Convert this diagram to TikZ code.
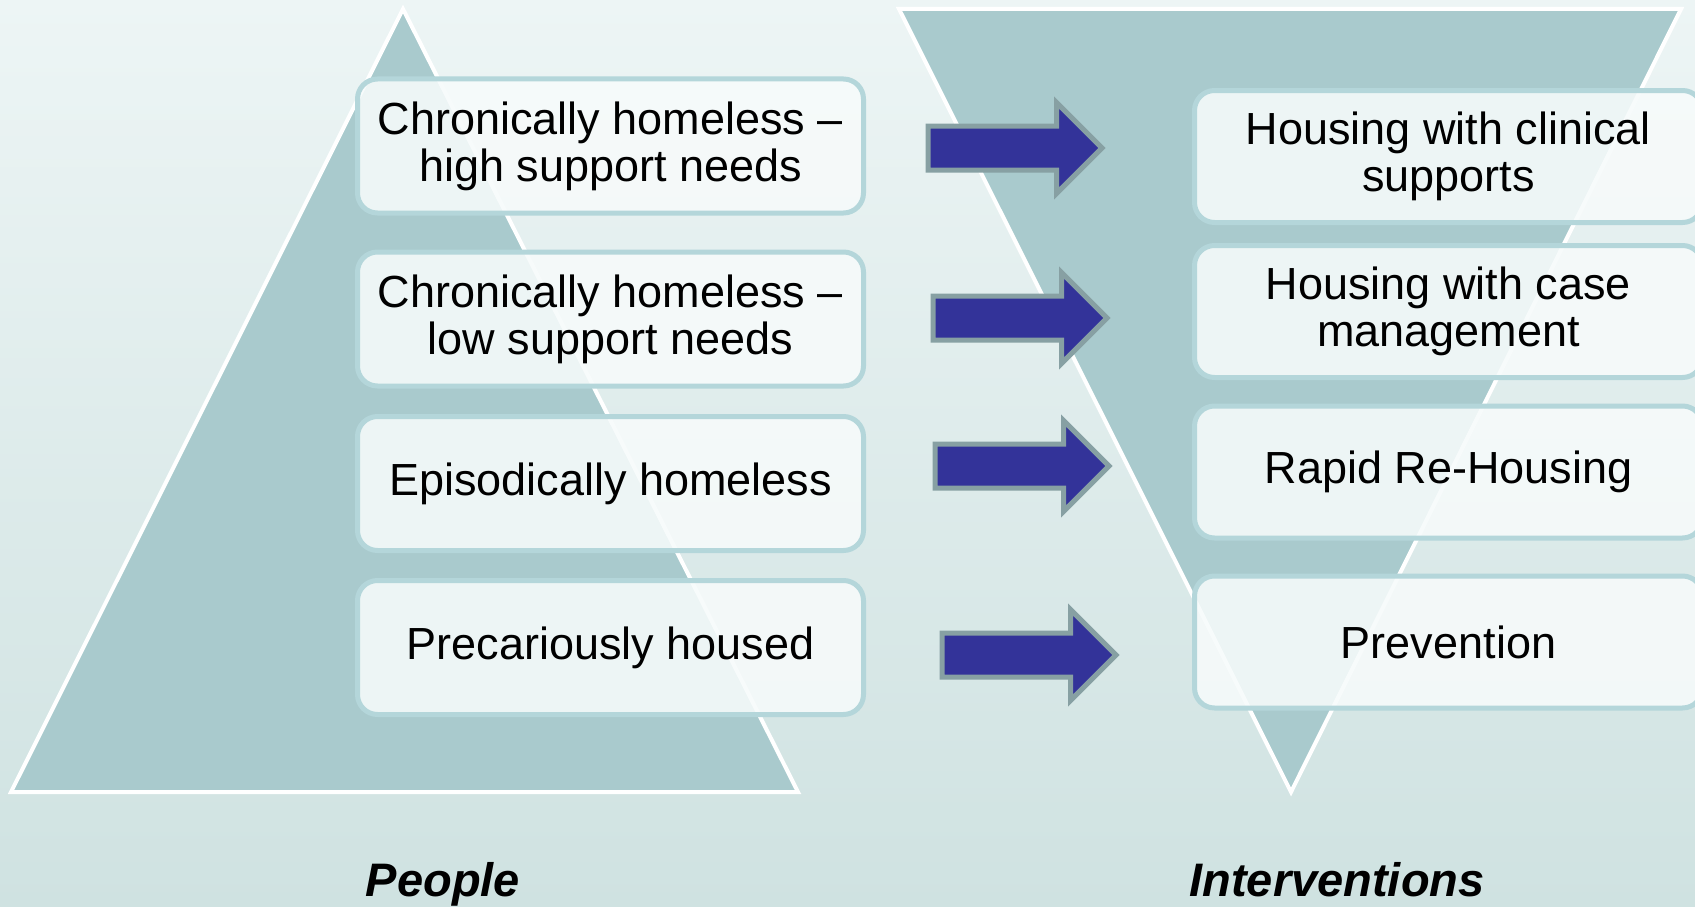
\documentclass[tikz,border=0pt]{standalone}
\usepackage{fontspec}
\setmainfont{Liberation Sans}
\usetikzlibrary{shapes.arrows}
\definecolor{bgtop}{HTML}{EDF5F5}
\definecolor{bgbot}{HTML}{CFE2E1}
\definecolor{trifill}{HTML}{A9CACD}
\definecolor{boxfill}{HTML}{F7FBFB}
\definecolor{boxline}{HTML}{B4D6DA}
\definecolor{arrowfill}{HTML}{333399}
\definecolor{arrowline}{HTML}{87A0A3}
\tikzset{
  tri/.style={fill=trifill, draw=white, line width=4pt, line join=miter},
  itembox/.style={rounded corners=20pt, draw=boxline, line width=5pt,
    fill=boxfill, fill opacity=0.88, text opacity=1, align=center,
    font=\fontsize{45}{47}\selectfont, inner sep=0pt},
  leftbox/.style={itembox, minimum width=506pt, minimum height=134pt},
  rightbox/.style={itembox, minimum width=508pt, minimum height=132pt},
  blockarrow/.style={single arrow, anchor=tail, draw=arrowline, line width=5pt,
    fill=arrowfill, inner xsep=0pt, inner ysep=19.5pt, minimum height=174pt,
    single arrow head extend=23.5pt, single arrow tip angle=90},
  caption/.style={font=\fontsize{47}{50}\selectfont\bfseries\itshape, anchor=base}
}
\begin{document}
\begin{tikzpicture}[x=1pt, y=-1pt]
\useasboundingbox (0,0) rectangle (1695,907);
\shade[top color=bgtop, bottom color=bgbot] (0,0) rectangle (1695,907);
% triangles
\draw[tri] (403,9) -- (11,792) -- (798,792) -- cycle;
\draw[tri] (899,9) -- (1681,9) -- (1291,792) -- cycle;
% left boxes
\node[leftbox] (l1) at (610.5,146) {Chronically homeless –\\high support needs};
\node[leftbox] (l2) at (610.5,319) {Chronically homeless –\\low support needs};
\node[leftbox] (l3) at (610.5,483.5) {Episodically homeless};
\node[leftbox] (l4) at (610.5,647.5) {Precariously housed};
% right boxes
\node[rightbox] (r1) at (1448.5,156.5) {Housing with clinical\\supports};
\node[rightbox] (r2) at (1448.5,311.5) {Housing with case\\management};
\node[rightbox] (r3) at (1448.5,472) {Rapid Re-Housing};
\node[rightbox] (r4) at (1448.5,642) {Prevention};
% arrows
\node[blockarrow] (a1) at (925.5,148) {};
\node[blockarrow] (a2) at (930.5,318) {};
\node[blockarrow] (a3) at (932.5,466) {};
\node[blockarrow] (a4) at (939.5,655) {};
% captions
\node[caption] (people) at (443,896) {People};
\node[caption] (interv) at (1337,896) {Interventions};
\end{tikzpicture}
\end{document}
